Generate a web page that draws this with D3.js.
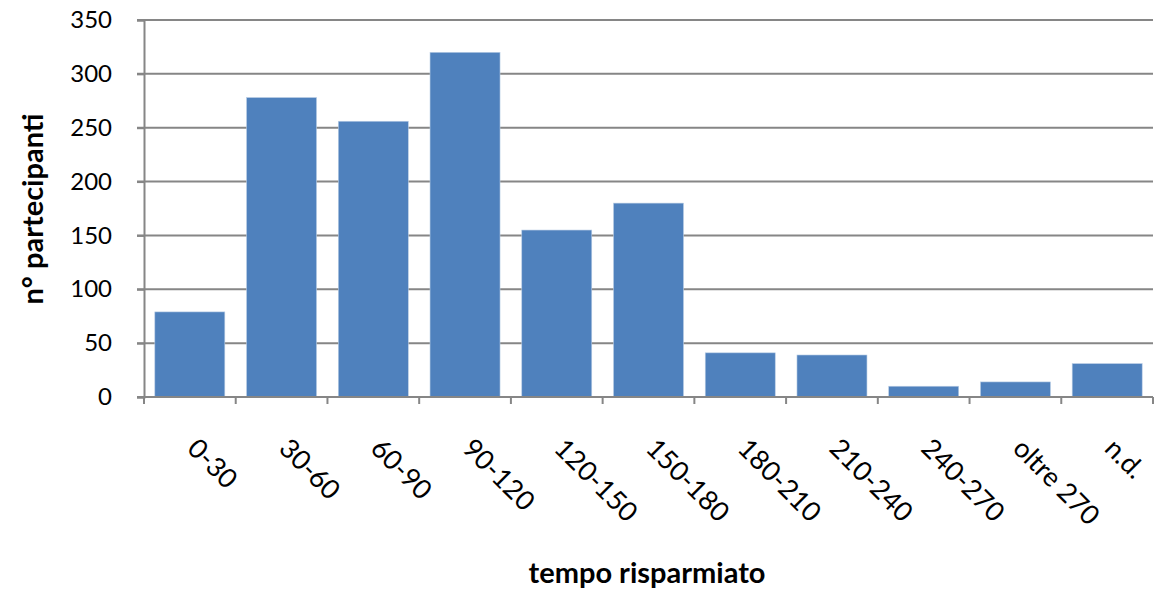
<!DOCTYPE html>
<html><head><meta charset="utf-8">
<script src="https://cdn.jsdelivr.net/npm/d3@7"></script>
<style>body{margin:0;background:#fff}</style>
</head><body>
<script>
const categories = ["0-30","30-60","60-90","90-120","120-150","150-180","180-210","210-240","240-270","oltre 270","n.d."];
const values = [79, 278, 256, 320, 155, 180, 41, 39, 10, 14, 31];
const yTicks = [0, 50, 100, 150, 200, 250, 300, 350];
const xTitle = "tempo risparmiato";
const yTitle = "n° partecipanti";

const W = 1157, H = 590;
const mLeft = 144, mRight = 1153, mTop = 20, mBottom = 397;
const font = "Lato, 'Open Sans', sans-serif";

const svg = d3.select("body").append("svg").attr("width", W).attr("height", H);

const x = d3.scaleBand().domain(categories).range([mLeft, mRight]).paddingInner(0.237).paddingOuter(0.118);
const y = d3.scaleLinear().domain([0, 350]).range([mBottom, mTop]);

// gridlines
svg.append("g").selectAll("line").data(yTicks.filter(d => d > 0)).join("line")
  .attr("x1", mLeft - 7).attr("x2", mRight).attr("y1", d => y(d)).attr("y2", d => y(d))
  .attr("stroke", "#868686").attr("stroke-width", 2);

// bars
svg.append("g").selectAll("rect").data(values).join("rect")
  .attr("x", (d, i) => x(categories[i]))
  .attr("width", x.bandwidth())
  .attr("y", d => y(d))
  .attr("height", d => y(0) - y(d))
  .attr("fill", "#4F81BD")
  .attr("stroke", "#B9CDE5").attr("stroke-width", 0.6);

// y axis
const yAxis = svg.append("g").attr("transform", `translate(${mLeft},0)`)
  .call(d3.axisLeft(y).tickValues(yTicks).tickSize(7).tickPadding(25));
yAxis.select(".domain").attr("stroke", "#868686").attr("stroke-width", 2);
yAxis.selectAll(".tick line").attr("stroke", "#868686").attr("stroke-width", 2);
yAxis.selectAll(".tick text").attr("font-family", font).attr("font-size", 24).attr("fill", "#000");

// x axis line with boundary ticks
const xa = svg.append("g");
xa.append("line").attr("x1", mLeft - 7).attr("x2", mRight).attr("y1", mBottom).attr("y2", mBottom)
  .attr("stroke", "#868686").attr("stroke-width", 2);
const bounds = d3.range(categories.length + 1).map(i => mLeft + i * (mRight - mLeft) / categories.length);
xa.selectAll("line.t").data(bounds).join("line").attr("class", "t")
  .attr("x1", d => d).attr("x2", d => d).attr("y1", mBottom).attr("y2", mBottom + 7)
  .attr("stroke", "#868686").attr("stroke-width", 2);

// x labels rotated 45
xa.selectAll("text").data(categories).join("text")
  .attr("transform", d => `translate(${x(d) + x.bandwidth() / 2 - 4},${450}) rotate(45)`)
  .attr("text-anchor", "start")
  .attr("font-family", font).attr("font-size", 27).attr("fill", "#000")
  .text(d => d);

// titles
svg.append("text").attr("x", 647).attr("y", 583).attr("text-anchor", "middle")
  .attr("font-family", font).attr("font-weight", "bold").attr("font-size", 29).text(xTitle);
svg.append("text").attr("transform", "translate(43,209) rotate(-90)").attr("text-anchor", "middle")
  .attr("font-family", font).attr("font-weight", "bold").attr("font-size", 29).text(yTitle);
</script>
</body></html>
